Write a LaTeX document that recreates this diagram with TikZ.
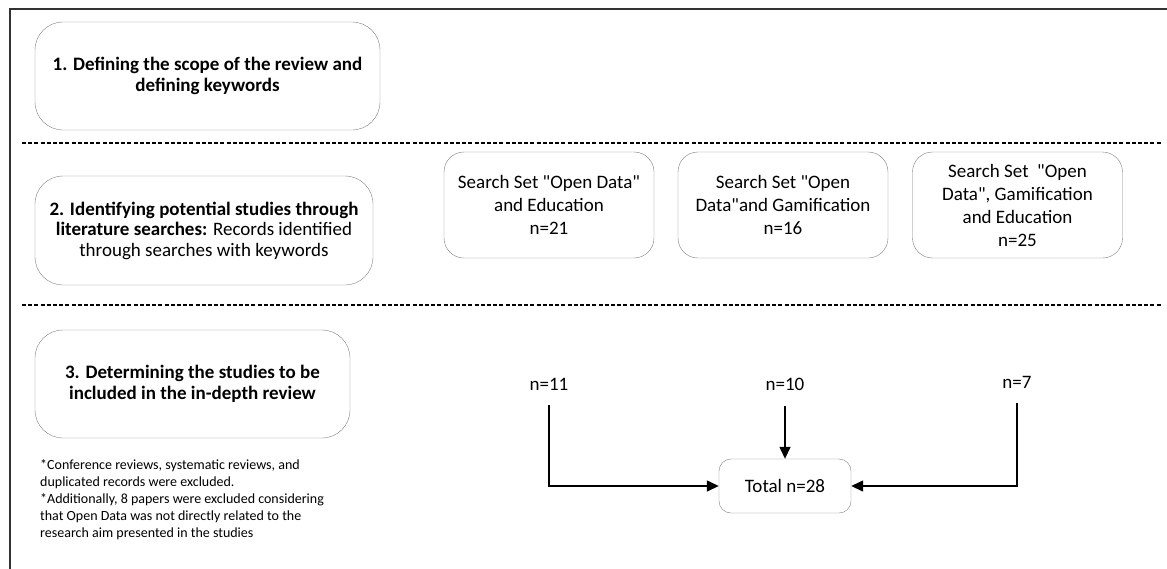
\documentclass[tikz,border=0pt]{standalone}
\usepackage{fontspec}
\setmainfont{Carlito}[Ligatures=TeXOff]
\usetikzlibrary{arrows.meta}

\begin{document}
\begin{tikzpicture}[x=1pt, y=-1pt,
  stage/.style={draw=black!50, rounded corners=28pt, align=center, font=\fontsize{19}{20.5}\selectfont},
  searchset/.style={draw=black!50, rounded corners=20pt, minimum width=210pt, minimum height=106pt, align=center, font=\fontsize{19}{23}\selectfont},
  count/.style={font=\fontsize{19}{23}\selectfont, outer sep=12pt},
  divider/.style={line width=1.7pt, dash pattern=on 4pt off 2.2pt},
  arr/.style={line width=1.4pt, -{Triangle[length=12pt,width=11pt]}}]

\useasboundingbox (0,0) rectangle (1167,568);

% outer frame
\draw [line width=2.5pt, black!80] (10,600) -- (10,9) -- (1200,9);

\node (s1) [stage, minimum width=345pt, minimum height=108pt] at (207.5, 76) {\textbf{1. Defining the scope of the review and}\\ \textbf{defining keywords}};

\draw [divider] (22,143) -- (1162,143);

\node (s2) [stage, minimum width=338pt, minimum height=109pt] at (204, 230.5) {\textbf{2. Identifying potential studies through}\\ \textbf{literature searches:} Records identified\\ through searches with keywords};

\node (a) [searchset] at (549, 205) {Search Set "Open Data"\\ and Education\\ n=21};
\node (b) [searchset] at (783, 205) {Search Set "Open\\ Data"and Gamification\\ n=16};
\node (c) [searchset] at (1017.5, 205) {Search Set\ \ "Open\\ Data", Gamification\\ and Education\\ n=25};

\draw [divider] (22,305) -- (1162,305);

\node (s3) [stage, minimum width=315pt, minimum height=108pt] at (192.5, 384) {\textbf{3. Determining the studies to be}\\ \textbf{included in the in-depth review}};

\node (note) [anchor=north west, align=left, inner sep=0pt, font=\fontsize{14}{17.2}\selectfont] at (40, 459) {*Conference reviews, systematic reviews, and\\ duplicated records were excluded.\\ *Additionally, 8 papers were excluded considering\\ that Open Data was not directly related to the\\ research aim presented in the studies};

\node (n11) [count] at (549, 384) {n=11};
\node (n10) [count] at (785, 384) {n=10};
\node (n7) [count] at (1017, 382) {n=7};

\node (total) [draw=black!50, rounded corners=12pt, minimum width=132pt, minimum height=54pt, font=\fontsize{19}{23}\selectfont] at (785, 486) {Total n=28};

\draw [arr] (n11) |- (total);
\draw [arr] (n10) -- (total);
\draw [arr] (n7) |- (total);

\end{tikzpicture}
\end{document}
